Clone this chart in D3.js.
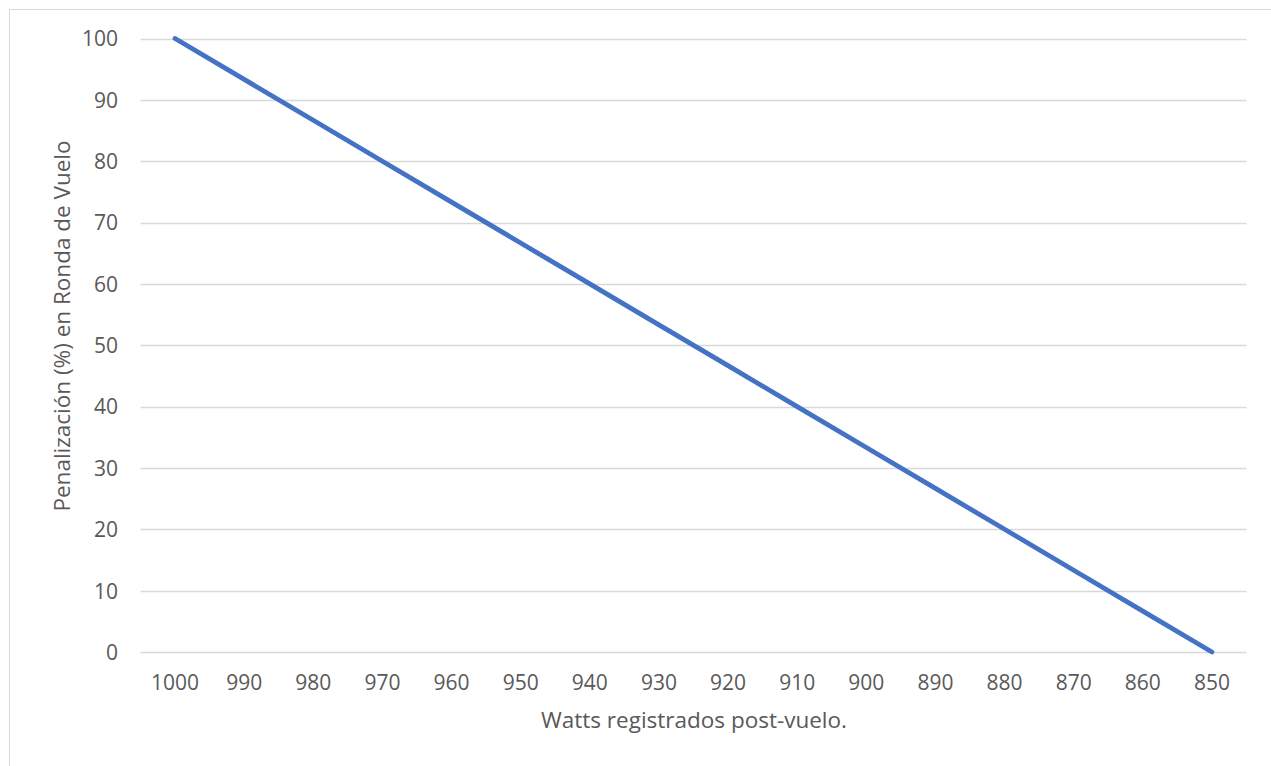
<!DOCTYPE html>
<html><head><meta charset="utf-8">
<script src="https://cdn.jsdelivr.net/npm/d3@7/dist/d3.min.js"></script>
<style>body{margin:0;background:#fff}svg{display:block}text{font-family:"Open Sans",sans-serif;fill:#595959}</style>
</head><body><svg id="c" width="1271" height="766"></svg>
<script>
const categories = ["1000","990","980","970","960","950","940","930","920","910","900","890","880","870","860","850"];
const penalizacion = [100,93.33,86.67,80,73.33,66.67,60,53.33,46.67,40,33.33,26.67,20,13.33,6.67,0];
const yTicks = [0,10,20,30,40,50,60,70,80,90,100];
const xTitle = "Watts registrados post-vuelo.";
const yTitle = "Penalización (%) en Ronda de Vuelo";

const FS = 21, TFS = 22.5;
const svg = d3.select("#c");
svg.append("rect").attr("x",9.5).attr("y",9.5).attr("width",1300).attr("height",800)
  .attr("fill","none").attr("stroke","#d9d9d9").attr("stroke-width",1);

const x = d3.scaleBand().domain(categories).range([140.5,1246.5]);
const y = d3.scaleLinear().domain([0,100]).range([652,38.5]);

const g = svg.append("g");
g.selectAll("line.grid").data(yTicks).join("line").attr("class","grid")
  .attr("x1",140.5).attr("x2",1246.5).attr("y1",d=>Math.round(y(d))+0.5).attr("y2",d=>Math.round(y(d))+0.5)
  .attr("stroke","#d9d9d9").attr("stroke-width",1.3);

const yAxis = svg.append("g").attr("transform","translate(118,0)")
  .call(d3.axisLeft(y).tickValues(yTicks).tickSize(0).tickPadding(0));
yAxis.select(".domain").remove();
yAxis.selectAll("text").attr("font-size",FS).attr("x",0).attr("dy","0.35em").style("font-family","Open Sans").style("fill","#595959");

const xAxis = svg.append("g").attr("transform","translate(0,652)")
  .call(d3.axisBottom(x).tickSize(0).tickPadding(0));
xAxis.select(".domain").remove();
xAxis.selectAll("text").attr("font-size",FS).attr("y",31).attr("dy","0.35em").style("font-family","Open Sans").style("fill","#595959");

const line = d3.line().x((d,i)=>x(categories[i])+x.bandwidth()/2).y(d=>y(d));
svg.append("path").datum(penalizacion).attr("d",line).attr("fill","none")
  .attr("stroke","#4472C4").attr("stroke-width",4.8).attr("stroke-linecap","round").attr("stroke-linejoin","round");

svg.append("text").attr("x",694).attr("y",720).attr("text-anchor","middle").attr("dy","0.35em")
  .attr("font-size",TFS).text(xTitle);
svg.append("text").attr("transform","translate(62,326) rotate(-90)").attr("text-anchor","middle").attr("dy","0.35em")
  .attr("font-size",TFS).text(yTitle);
</script></body></html>
